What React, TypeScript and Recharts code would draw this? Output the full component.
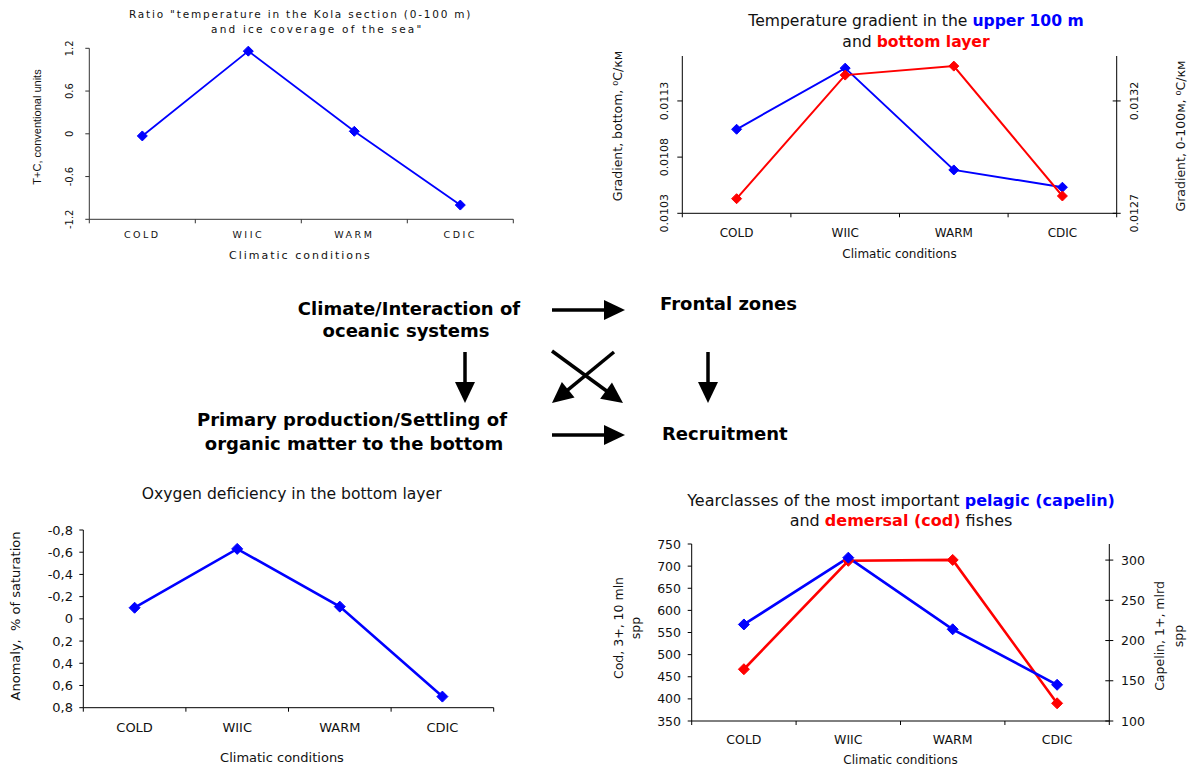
import React from "react";
import { LineChart, Line, XAxis, YAxis } from "recharts";

const CATEGORIES = ["COLD", "WIIC", "WARM", "CDIC"];

// top left: temperature in the Kola section + ice coverage
const kolaRatio = [-0.03, 1.16, 0.035, -1.0];
const kolaTicks = [-1.2, -0.6, 0, 0.6, 1.2];

// top right: temperature gradients
const gradBottom = [0.01043, 0.01153, 0.01161, 0.010454];
const grad100m = [0.013074, 0.013346, 0.012893, 0.012816];
const gradBottomTicks = [0.0103, 0.0108, 0.0113];
const grad100mTicks = [0.0127, 0.0132];

// bottom left: oxygen anomaly
const oxygenAnomaly = [-0.1, -0.63, -0.11, 0.7];
const oxygenTicks = [-0.8, -0.6, -0.4, -0.2, 0, 0.2, 0.4, 0.6, 0.8];

// bottom right: yearclasses
const codYearclass = [467, 712, 714, 390];
const capelinYearclass = [220, 303, 214, 145];
const codTicks = [350, 400, 450, 500, 550, 600, 650, 700, 750];
const capelinTicks = [100, 150, 200, 250, 300];

const BLUE = "#0000ff";
const RED = "#ff0000";
const FONT = "'DejaVu Sans', Verdana, sans-serif";

// category boundaries get tick marks, band centres get the labels
const xTicks = CATEGORIES.flatMap((_, i) => [i, i + 0.5]).concat(CATEGORIES.length);

const kolaRows = CATEGORIES.map((name, i) => ({ x: i + 0.5, name, v: kolaRatio[i] }));
const gradRows = CATEGORIES.map((name, i) => ({ x: i + 0.5, name, bottom: gradBottom[i], upper: grad100m[i] }));
const oxygenRows = CATEGORIES.map((name, i) => ({ x: i + 0.5, name, v: oxygenAnomaly[i] }));
const fishRows = CATEGORIES.map((name, i) => ({ x: i + 0.5, name, cod: codYearclass[i], capelin: capelinYearclass[i] }));

type XTickOpts = { axisY: number; labelY: number; size: number; spacing?: number; color: string };

const xTick = (o: XTickOpts) => (p: any) => {
  const v = p.payload.value;
  if (Number.isInteger(v)) {
    return <line x1={p.x} x2={p.x} y1={o.axisY} y2={o.axisY + 4} stroke={o.color} />;
  }
  return (
    <text x={p.x} y={o.labelY} textAnchor="middle" dominantBaseline="central" fontSize={o.size}
      fontFamily={FONT} letterSpacing={o.spacing} fill="#111">
      {CATEGORIES[Math.floor(v)]}
    </text>
  );
};

type YTickOpts = {
  axisX: number; side: "left" | "right"; inner: number; outer: number; labelX: number;
  rotate?: boolean; size: number; fmt: (v: number) => string; color: string;
};

const yTick = (o: YTickOpts) => (p: any) => {
  const y = p.y;
  const dir = o.side === "left" ? -1 : 1;
  const label = o.fmt(p.payload.value);
  return (
    <g>
      <line x1={o.axisX - dir * o.inner} x2={o.axisX + dir * o.outer} y1={y} y2={y} stroke={o.color} />
      {o.rotate ? (
        <text x={o.labelX} y={y} transform={`rotate(-90 ${o.labelX} ${y})`} textAnchor="middle"
          dominantBaseline="central" fontSize={o.size} fontFamily={FONT} fill="#111">{label}</text>
      ) : (
        <text x={o.labelX} y={y} textAnchor={o.side === "left" ? "end" : "start"}
          dominantBaseline="central" fontSize={o.size} fontFamily={FONT} fill="#111">{label}</text>
      )}
    </g>
  );
};

const diamond = (color: string, r: number) => (p: any) => {
  const { cx, cy, index } = p;
  if (cx == null || cy == null) return <g key={index} />;
  return (
    <polygon key={index} points={`${cx},${cy - r} ${cx + r},${cy} ${cx},${cy + r} ${cx - r},${cy}`}
      fill={color} stroke={color} strokeWidth={1} />
  );
};

function KolaChart() {
  const axisX = 89.3, axisY = 219.3, c = "#333";
  return (
    <div style={{ position: "absolute", left: 0, top: 0 }}>
      <LineChart width={540} height={270} data={kolaRows} margin={{ top: 48.3, right: 26.7, bottom: 20.7, left: 49.3 }}>
        <XAxis dataKey="x" type="number" domain={[0, 4]} ticks={xTicks} interval={0} height={30}
          axisLine={{ stroke: c }} tickLine={false}
          tick={xTick({ axisY, labelY: 234.5, size: 9.5, spacing: 2.5, color: c })} />
        <YAxis type="number" domain={[-1.2, 1.2]} ticks={kolaTicks} interval={0} width={40}
          axisLine={{ stroke: c }} tickLine={false}
          tick={yTick({ axisX, side: "left", inner: 0, outer: 4, labelX: 70, rotate: true, size: 10, fmt: (v) => String(v), color: c })} />
        <Line dataKey="v" type="linear" stroke={BLUE} strokeWidth={1.8} dot={diamond(BLUE, 5)} activeDot={false} isAnimationActive={false} />
      </LineChart>
    </div>
  );
}

function GradientChart() {
  const axisY = 213.3, c = "#000";
  return (
    <div style={{ position: "absolute", left: 600, top: 0 }}>
      <LineChart width={592} height={270} data={gradRows} margin={{ top: 56, right: 35.3, bottom: 26.7, left: 42.3 }}>
        <XAxis dataKey="x" type="number" domain={[0, 4]} ticks={xTicks} interval={0} height={30}
          axisLine={{ stroke: c }} tickLine={false}
          tick={xTick({ axisY, labelY: 232.7, size: 12, color: c })} />
        <YAxis yAxisId="left" type="number" domain={[0.0103, 0.0117]} ticks={gradBottomTicks} interval={0} width={40}
          axisLine={{ stroke: c }} tickLine={false}
          tick={yTick({ axisX: 82.3, side: "left", inner: 0, outer: 5, labelX: 65, rotate: true, size: 11, fmt: (v) => v.toFixed(4), color: c })} />
        <YAxis yAxisId="right" orientation="right" type="number" domain={[0.0127, 0.0134]} ticks={grad100mTicks} interval={0} width={40}
          axisLine={{ stroke: c }} tickLine={false}
          tick={yTick({ axisX: 516.7, side: "right", inner: 4, outer: 4, labelX: 535, rotate: true, size: 11, fmt: (v) => v.toFixed(4), color: c })} />
        <Line yAxisId="right" dataKey="upper" type="linear" stroke={BLUE} strokeWidth={2} dot={diamond(BLUE, 5)} activeDot={false} isAnimationActive={false} />
        <Line yAxisId="left" dataKey="bottom" type="linear" stroke={RED} strokeWidth={2} dot={diamond(RED, 5)} activeDot={false} isAnimationActive={false} />
      </LineChart>
    </div>
  );
}

function OxygenChart() {
  const axisY = 227.7, c = "#000";
  return (
    <div style={{ position: "absolute", left: 0, top: 480 }}>
      <LineChart width={540} height={291} data={oxygenRows} margin={{ top: 50, right: 46.3, bottom: 33.3, left: 38.3 }}>
        <XAxis dataKey="x" type="number" domain={[0, 4]} ticks={xTicks} interval={0} height={30}
          axisLine={{ stroke: c }} tickLine={false}
          tick={xTick({ axisY, labelY: 247.3, size: 13, color: c })} />
        <YAxis type="number" reversed domain={[-0.8, 0.8]} ticks={oxygenTicks} interval={0} width={45}
          axisLine={{ stroke: c }} tickLine={false}
          tick={yTick({ axisX: 83.3, side: "left", inner: 0, outer: 4, labelX: 73, size: 13, fmt: (v) => String(v).replace(".", ","), color: c })} />
        <Line dataKey="v" type="linear" stroke={BLUE} strokeWidth={2.6} dot={diamond(BLUE, 5.5)} activeDot={false} isAnimationActive={false} />
      </LineChart>
    </div>
  );
}

function YearclassChart() {
  const axisY = 241, c = "#000";
  return (
    <div style={{ position: "absolute", left: 600, top: 480 }}>
      <LineChart width={592} height={291} data={fishRows} margin={{ top: 64, right: 37.7, bottom: 20, left: 46.7 }}>
        <XAxis dataKey="x" type="number" domain={[0, 4]} ticks={xTicks} interval={0} height={30}
          axisLine={{ stroke: c }} tickLine={false}
          tick={xTick({ axisY, labelY: 259.3, size: 12.5, color: c })} />
        <YAxis yAxisId="cod" type="number" domain={[350, 750]} ticks={codTicks} interval={0} width={45}
          axisLine={{ stroke: c }} tickLine={false}
          tick={yTick({ axisX: 91.7, side: "left", inner: 0, outer: 4, labelX: 81, size: 12.5, fmt: (v) => String(v), color: c })} />
        <YAxis yAxisId="capelin" orientation="right" type="number" domain={[100, 320]} ticks={capelinTicks} interval={0} width={45}
          axisLine={{ stroke: c }} tickLine={false}
          tick={yTick({ axisX: 509.3, side: "right", inner: 4, outer: 4, labelX: 521, size: 12.5, fmt: (v) => String(v), color: c })} />
        <Line yAxisId="cod" dataKey="cod" type="linear" stroke={RED} strokeWidth={2.6} dot={diamond(RED, 5.5)} activeDot={false} isAnimationActive={false} />
        <Line yAxisId="capelin" dataKey="capelin" type="linear" stroke={BLUE} strokeWidth={2.6} dot={diamond(BLUE, 5.5)} activeDot={false} isAnimationActive={false} />
      </LineChart>
    </div>
  );
}

function Arrow({ x1, y1, x2, y2 }: { x1: number; y1: number; x2: number; y2: number }) {
  const len = Math.hypot(x2 - x1, y2 - y1);
  const ux = (x2 - x1) / len, uy = (y2 - y1) / len;
  const bx = x2 - ux * 21, by = y2 - uy * 21;
  const px = -uy * 10, py = ux * 10;
  return (
    <g>
      <line x1={x1} y1={y1} x2={bx + ux * 2} y2={by + uy * 2} stroke="#000" strokeWidth={3.5} />
      <polygon points={`${x2},${y2} ${bx + px},${by + py} ${bx - px},${by - py}`} fill="#000" />
    </g>
  );
}

function VText({ x, y, size, children, family = FONT }: { x: number; y: number; size: number; children: React.ReactNode; family?: string }) {
  return (
    <text x={x} y={y} transform={`rotate(-90 ${x} ${y})`} textAnchor="middle" dominantBaseline="central"
      fontSize={size} fontFamily={family} fill="#111" style={{ whiteSpace: "pre" }}>
      {children}
    </text>
  );
}

function Overlay() {
  const t = { fontFamily: FONT, fill: "#111", dominantBaseline: "central" as const };
  const bold = { fontFamily: FONT, fontWeight: 700, fontSize: 18, fill: "#000", dominantBaseline: "central" as const };
  return (
    <svg width={1192} height={771} style={{ position: "absolute", left: 0, top: 0, pointerEvents: "none" }}>
      {/* top left */}
      <text x={129} y={14} fontSize={10.5} letterSpacing={1.8} {...t}>Ratio "temperature in the Kola section (0-100 m)</text>
      <text x={211} y={29} fontSize={10.5} letterSpacing={2.2} {...t}>and ice coverage of the sea"</text>
      <VText x={37} y={127} size={11} family="'Liberation Sans', Arial, sans-serif">T+C, conventional units</VText>
      <text x={229} y={255} fontSize={11} letterSpacing={2} {...t}>Climatic conditions</text>

      {/* top right */}
      <text x={916} y={21} fontSize={15.6} textAnchor="middle" {...t}>
        {"Temperature gradient in the "}<tspan fill={BLUE} fontWeight={700}>upper 100 m</tspan>
      </text>
      <text x={916} y={42} fontSize={15.6} textAnchor="middle" {...t}>
        {"and "}<tspan fill={RED} fontWeight={700}>bottom layer</tspan>
      </text>
      <VText x={617} y={126} size={12.5}>Gradient, bottom, ⁰C/км</VText>
      <VText x={1180} y={136} size={12.5}>Gradient, 0-100м, ⁰C/км</VText>
      <text x={899.5} y={254} fontSize={12} textAnchor="middle" {...t}>Climatic conditions</text>

      {/* bottom left */}
      <text x={291.7} y={494} fontSize={15.6} textAnchor="middle" {...t}>Oxygen deficiency in the bottom layer</text>
      <VText x={15} y={616} size={13}>Anomaly,  % of saturation</VText>
      <text x={282} y={757} fontSize={13} textAnchor="middle" {...t}>Climatic conditions</text>

      {/* bottom right */}
      <text x={901} y={500} fontSize={16} textAnchor="middle" {...t}>
        {"Yearclasses of the most important "}<tspan fill={BLUE} fontWeight={700}>pelagic (capelin)</tspan>
      </text>
      <text x={901} y={520} fontSize={16} textAnchor="middle" {...t}>
        {"and "}<tspan fill={RED} fontWeight={700}>demersal (cod)</tspan>{" fishes"}
      </text>
      <VText x={618} y={628} size={12.5}>Cod, 3+, 10 mln</VText>
      <VText x={635} y={628} size={12.5}>spp</VText>
      <VText x={1159} y={636} size={12.5}>Capelin, 1+, mlrd</VText>
      <VText x={1178} y={636} size={12.5}>spp</VText>
      <text x={900.5} y={760} fontSize={12} textAnchor="middle" {...t}>Climatic conditions</text>

      {/* scheme */}
      <text x={409} y={308} textAnchor="middle" {...bold}>Climate/Interaction of</text>
      <text x={406} y={330} textAnchor="middle" {...bold}>oceanic systems</text>
      <text x={352} y={419} textAnchor="middle" {...bold}>Primary production/Settling of</text>
      <text x={354} y={443} textAnchor="middle" {...bold}>organic matter to the bottom</text>
      <text x={660} y={303} {...bold}>Frontal zones</text>
      <text x={662} y={433} {...bold}>Recruitment</text>
      <Arrow x1={552} y1={310} x2={625} y2={310} />
      <Arrow x1={552} y1={435} x2={625} y2={435} />
      <Arrow x1={465} y1={352} x2={465} y2={403} />
      <Arrow x1={708} y1={352} x2={708} y2={403} />
      <Arrow x1={552} y1={351} x2={623} y2={403} />
      <Arrow x1={614} y1={352} x2={552} y2={403} />
    </svg>
  );
}

export default function App() {
  return (
    <div style={{ position: "absolute", left: 0, top: 0, width: 1192, height: 771, background: "#fff" }}>
      <KolaChart />
      <GradientChart />
      <OxygenChart />
      <YearclassChart />
      <Overlay />
    </div>
  );
}
